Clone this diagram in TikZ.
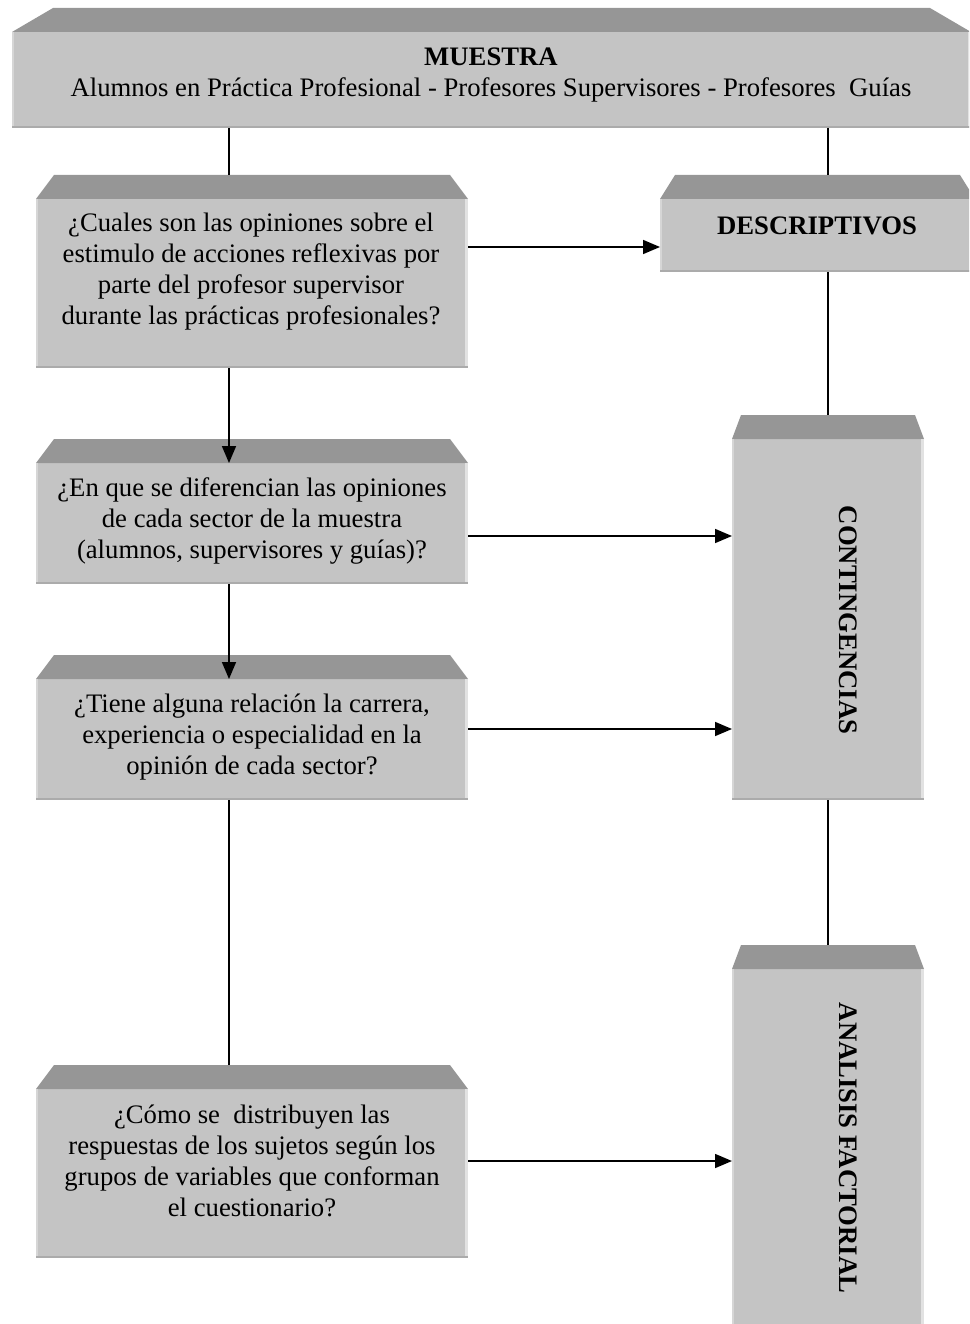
\documentclass[tikz,border=0pt]{standalone}
\usepackage{fontspec}
\setmainfont{Liberation Serif}
\usetikzlibrary{calc,arrows.meta}

\definecolor{facegray}{HTML}{C4C4C4}
\definecolor{bevelgray}{HTML}{969696}
\definecolor{edgelight}{HTML}{E2E2E2}
\definecolor{edgedark}{HTML}{ABABAB}

\tikzset{
  face/.style={draw=none, fill=facegray, inner sep=0pt, outer sep=0pt},
  bevel/.style={fill=bevelgray},
  txt/.style={font=\fontsize{26.7}{31}\selectfont, align=center, inner sep=0pt},
  vtxt/.style={txt, font=\fontsize{26.7}{31}\selectfont\bfseries, rotate=-90},
  link/.style={draw=black, line width=1.6pt},
  arrow/.style={link, -{Triangle[length=17pt,width=14pt]}},
}

% \cube{name}{left}{top}{right}{bottom}{bevel inset}
% draws the front face as a named node with a darker top bevel
\newcommand{\cube}[6]{%
  \node[face, minimum width={#4-#2}, minimum height={#5-#3}] (#1)
    at ({(#2+#4)/2},{(#3+#5)/2}) {};
  \fill[bevel] (#1.north west) -- ++(#6,-24)
    -- ($(#1.north east)+(-#6,-24)$) -- (#1.north east) -- cycle;
  \fill[edgelight] ($(#1.north east)+(-3,0)$) rectangle (#1.south east);
  \fill[edgelight!60!facegray] (#1.north west) rectangle ($(#1.south west)+(2,0)$);
  \fill[edgedark] ($(#1.south west)+(0,-2)$) rectangle (#1.south east);
  \coordinate (#1-bev) at ($(#1.north)+(0,-24)$);
}

\begin{document}
\begin{tikzpicture}[x=1pt, y=-1pt]
  \useasboundingbox (0,0) rectangle (969,1324);
  \clip (0,0) rectangle (969,1324);

  % boxes
  \cube{muestra}{12}{32}{971}{128}{41}
  \cube{q1}{36}{199}{468}{368}{18}
  \cube{desc}{660}{199}{975}{272}{15}
  \cube{q2}{36}{463}{468}{584}{18}
  \cube{cont}{732}{439}{924}{800}{9}
  \cube{q3}{36}{679}{468}{800}{18}
  \cube{anal}{732}{969}{924}{1345}{9}
  \cube{q4}{36}{1089}{468}{1258}{18}

  % texts
  \node[txt] (muestra-t) at (491,75)
    {\textbf{MUESTRA}\\Alumnos en Práctica Profesional - Profesores Supervisores - Profesores~ Guías};
  \node[txt] (q1-t) at (251,272)
    {¿Cuales son las opiniones sobre el\\estimulo de acciones reflexivas por\\parte del profesor supervisor\\durante las prácticas profesionales?};
  \node[txt, font=\fontsize{26.7}{31}\selectfont\bfseries] (desc-t) at (817,226) {DESCRIPTIVOS};
  \node[txt] (q2-t) at (252,521)
    {¿En que se diferencian las opiniones\\de cada sector de la muestra\\(alumnos, supervisores y guías)?};
  \node[vtxt] (cont-t) at (848,620) {CONTINGENCIAS};
  \node[txt] (q3-t) at (252,737)
    {¿Tiene alguna relación la carrera,\\experiencia o especialidad en la\\opinión de cada sector?};
  \node[vtxt] (anal-t) at (848,1148) {ANALISIS FACTORIAL};
  \node[txt] (q4-t) at (252,1161)
    {¿Cómo se~ distribuyen las\\respuestas de los sujetos según los\\grupos de variables que conforman\\el cuestionario?};

  % column and row guides for the connectors
  \coordinate (lc) at (229,0);
  \coordinate (rc) at (828,0);
  \coordinate (r1) at (0,247);
  \coordinate (r2) at (0,536);
  \coordinate (r3) at (0,729);
  \coordinate (r4) at (0,1161);

  % connectors
  \draw[link] (muestra.south -| lc) -- (q1-bev -| lc);
  \draw[link] (muestra.south -| rc) -- (desc-bev -| rc);
  \draw[link] (desc.south -| rc) -- (cont-bev -| rc);
  \draw[link] (cont.south -| rc) -- (anal-bev -| rc);
  \draw[arrow] (q1.south -| lc) -- (q2.north -| lc);
  \draw[arrow] (q2.south -| lc) -- (q3.north -| lc);
  \draw[link] (q3.south -| lc) -- (q4-bev -| lc);
  \draw[arrow] (q1.east |- r1) -- (desc.west |- r1);
  \draw[arrow] (q2.east |- r2) -- (cont.west |- r2);
  \draw[arrow] (q3.east |- r3) -- (cont.west |- r3);
  \draw[arrow] (q4.east |- r4) -- (anal.west |- r4);
\end{tikzpicture}
\end{document}
